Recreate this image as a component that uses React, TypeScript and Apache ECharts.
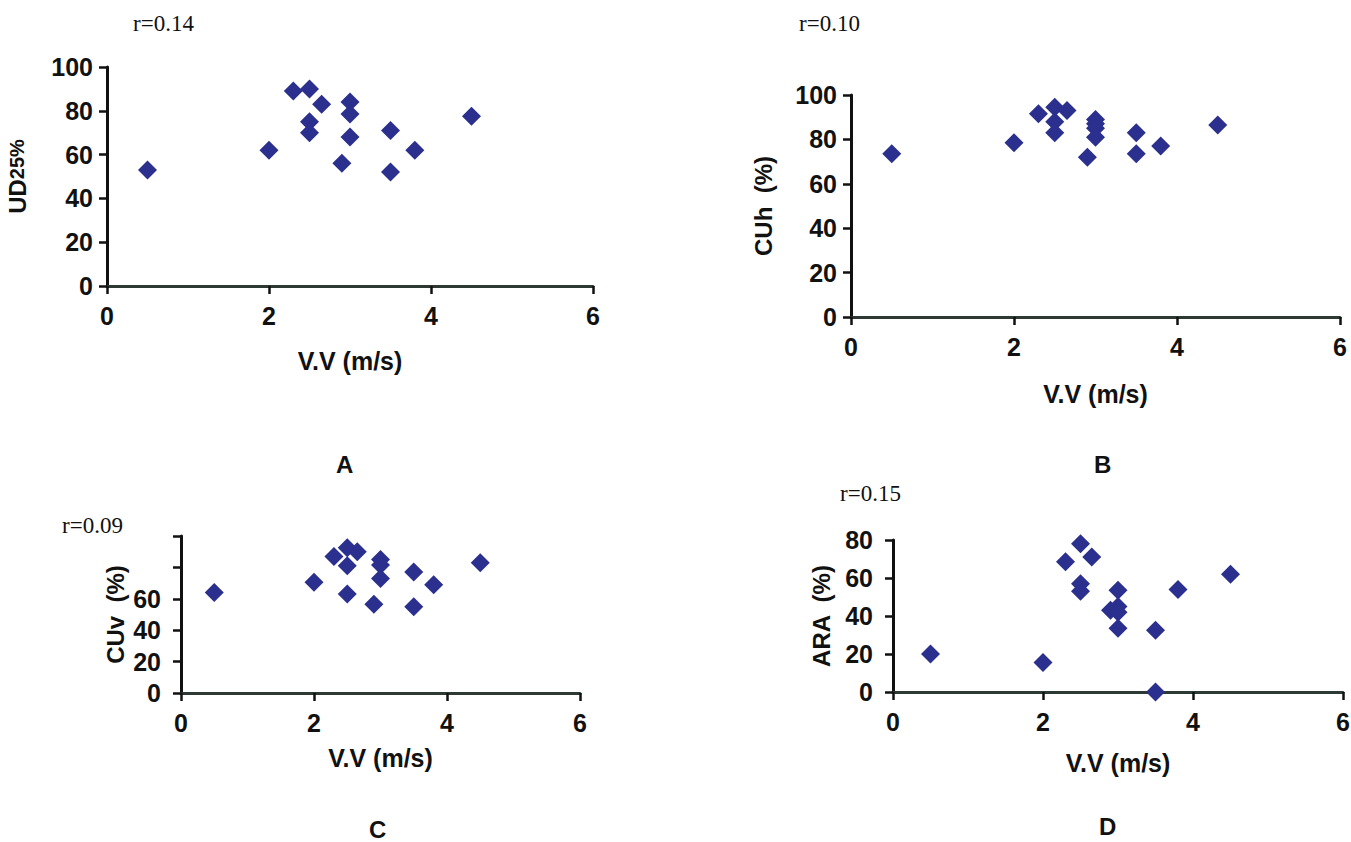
import React, { useEffect, useRef } from "react";
import * as echarts from "echarts";

// ---- data ----
const vvA = [0.5, 2, 2.3, 2.5, 2.65, 2.5, 2.5, 3, 3, 3, 2.9, 3.5, 3.5, 3.8, 4.5];
const ud25A = [53, 62, 89, 90, 83, 75, 70, 84, 78.5, 68, 56, 71, 52, 62, 77.5];

const vvB = [0.5, 2, 2.3, 2.5, 2.65, 2.5, 2.5, 3, 3, 3, 3, 2.9, 3.5, 3.5, 3.8, 4.5];
const cuhB = [73.5, 78.5, 91.5, 94.5, 93, 88, 83, 89, 87, 85, 81, 72, 83, 73.5, 77, 86.5];

const vvC = [0.5, 2, 2.3, 2.5, 2.65, 2.5, 2.5, 3, 3, 3, 2.9, 3.5, 3.5, 3.8, 4.5];
const cuvC = [64, 70.5, 87, 92.5, 90, 81, 63, 85, 81.5, 73, 56.5, 77, 55, 69, 83];

const vvD = [0.5, 2, 2.3, 2.5, 2.65, 2.5, 2.5, 3, 2.9, 3, 3, 3, 3.5, 3.5, 3.8, 4.5];
const araD = [20, 15.5, 68.5, 78, 71, 57, 53, 53.5, 43, 45, 42, 33.5, 32.5, 0, 54, 62];

const rValues = ["r=0.14", "r=0.10", "r=0.09", "r=0.15"];
const panelLetters = ["A", "B", "C", "D"];
const xName = "V.V (m/s)";
const yNames = ["{a|UD}{b|25%}", "{a|CUh  (%)}", "{a|CUv  (%)}", "{a|ARA  (%)}"];
const yMax = [100, 100, 100, 80];

const SANS = "'Liberation Sans', Arial, Helvetica, sans-serif";
const SERIF = "'Liberation Serif', 'Times New Roman', serif";
const MARK = "#2b2f8e";

export default function App() {
  const ref = useRef<HTMLDivElement>(null);

  useEffect(() => {
    document.body.style.margin = "0";
    if (!ref.current) return;
    const chart = echarts.init(ref.current, undefined, { renderer: "svg" });

    const grids = [
      { left: 107, top: 67, width: 486, height: 219 },
      { left: 851, top: 95, width: 489, height: 222 },
      { left: 181, top: 536, width: 399, height: 157 },
      { left: 893, top: 540, width: 450, height: 152 },
    ];

    const tickLabel = { fontFamily: SANS, fontWeight: "bold" as const, fontSize: 25, color: "#111" };

    const xAxes = grids.map((_, i) => ({
      type: "value",
      gridIndex: i,
      min: 0,
      max: 6,
      interval: 2,
      name: xName,
      nameLocation: "middle",
      nameGap: [62, 64, 52, 58][i],
      nameTextStyle: { fontFamily: SANS, fontWeight: "bold", fontSize: 25, color: "#111" },
      axisLine: { show: true, onZero: false, lineStyle: { color: "#2d3a33", width: 3 } },
      axisTick: { show: true, inside: false, length: 8, lineStyle: { color: "#111", width: 2.5 } },
      axisLabel: { ...tickLabel, margin: 17 },
      splitLine: { show: false },
    }));

    const yAxes = grids.map((_, i) => ({
      type: "value",
      gridIndex: i,
      min: 0,
      max: yMax[i],
      interval: 20,
      name: yNames[i],
      nameLocation: "middle",
      nameGap: [78, 76, 54, 60][i],
      nameTextStyle: {
        rich: {
          a: { fontFamily: SANS, fontWeight: "bold", fontSize: 24, color: "#111" },
          b: { fontFamily: SANS, fontWeight: "bold", fontSize: 20, color: "#111" },
        },
      },
      axisLine: { show: true, onZero: false, lineStyle: { color: "#111", width: 3 } },
      axisTick: { show: true, inside: false, length: 8, lineStyle: { color: "#111", width: 2.5 } },
      axisLabel: {
        ...tickLabel,
        margin: i >= 2 ? 20 : 14,
        formatter: (v: number) => (i === 2 && v > 60 ? "" : String(v)),
      },
      splitLine: { show: false },
    }));

    const datasets = [
      [vvA, ud25A],
      [vvB, cuhB],
      [vvC, cuvC],
      [vvD, araD],
    ];

    const series = datasets.map(([xs, ys], i) => ({
      type: "scatter",
      xAxisIndex: i,
      yAxisIndex: i,
      symbol: "diamond",
      symbolSize: 19,
      itemStyle: { color: MARK, opacity: 1 },
      data: xs.map((x, k) => [x, ys[k]]),
      z: 3,
    }));

    const rPos = [
      { left: 133, top: 12 },
      { left: 799, top: 12 },
      { left: 62, top: 514 },
      { left: 840, top: 482 },
    ];
    const letterPos = [
      { left: 336, top: 452 },
      { left: 1094, top: 452 },
      { left: 369, top: 817 },
      { left: 1099, top: 814 },
    ];

    const titles = [
      ...rValues.map((t, i) => ({
        text: t,
        ...rPos[i],
        padding: 0,
        textStyle: { fontFamily: SERIF, fontSize: 23, fontWeight: "normal", color: "#111" },
      })),
      ...panelLetters.map((t, i) => ({
        text: t,
        ...letterPos[i],
        padding: 0,
        textStyle: { fontFamily: SANS, fontSize: 24, fontWeight: "bold", color: "#111" },
      })),
    ];

    chart.setOption({
      animation: false,
      backgroundColor: "#ffffff",
      title: titles,
      grid: grids.map((g) => ({ ...g, outerBoundsMode: "none", containLabel: false })),
      xAxis: xAxes,
      yAxis: yAxes,
      series,
      tooltip: { show: false },
    } as any);

    return () => chart.dispose();
  }, []);

  return <div ref={ref} style={{ width: 1351, height: 842 }} />;
}
